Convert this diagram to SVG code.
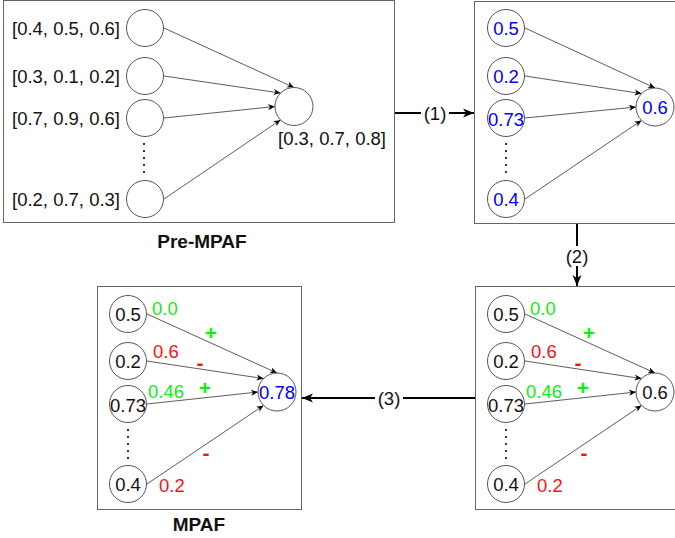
<svg xmlns="http://www.w3.org/2000/svg" width="675" height="538" viewBox="0 0 675 538">
<defs>
<style>
text{font-family:"Liberation Sans",Arial,sans-serif;font-size:18.5px;fill:#111}
.box{fill:#fff;stroke:#666;stroke-width:1}
.node{fill:#fff;stroke:#555;stroke-width:1}
.c{text-anchor:middle}
.blue{fill:#0000ff}
.green{fill:#11ee11}
.red{fill:#ff1111}
.sign{font-weight:bold;font-size:21px;text-anchor:middle}
.title{font-weight:bold;font-size:19px;text-anchor:middle}
.edge{stroke:#333;stroke-width:0.8;fill:none;marker-end:url(#sa)}
.main{stroke:#000;stroke-width:2;fill:none;marker-end:url(#la)}
.dots{stroke:#333;stroke-width:2;stroke-dasharray:2 5}
.lbl{text-anchor:middle}
</style>
<marker id="sa" markerUnits="userSpaceOnUse" markerWidth="8" markerHeight="8" viewBox="0 0 8 8" refX="7" refY="4" orient="auto">
<path d="M0,1 L7,4 L0,7 L2,4 Z" fill="#000"/>
</marker>
<marker id="la" markerUnits="userSpaceOnUse" markerWidth="12" markerHeight="12" viewBox="0 0 12 12" refX="11" refY="6" orient="auto">
<path d="M0,1.5 L11,6 L0,10.5 L3,6 Z" fill="#000"/>
</marker>
</defs>
<rect width="675" height="538" fill="#fff"/>

<g id="pre-mpaf">
<rect class="box" x="3.5" y="0.5" width="391" height="222"/>
<text class="title" x="202" y="248">Pre-MPAF</text>
</g>
<g id="box2"><rect class="box" x="474.5" y="1.5" width="202" height="222"/></g>
<g id="box3"><rect class="box" x="475.5" y="286.5" width="202" height="223"/></g>
<g id="mpaf">
<rect class="box" x="97.5" y="286.5" width="204" height="223"/>
<text class="title" x="199" y="531">MPAF</text>
</g>

<g id="connectors">
<line class="edge" x1="164" y1="28" x2="294" y2="87.5"/>
<line class="edge" x1="164" y1="76" x2="280.6" y2="93.1"/>
<line class="edge" x1="164" y1="118" x2="275" y2="106.5"/>
<line class="edge" x1="164" y1="199" x2="280.6" y2="119.9"/>
<line class="edge" x1="525" y1="28" x2="655" y2="88"/>
<line class="edge" x1="525" y1="76" x2="641.6" y2="93.6"/>
<line class="edge" x1="525" y1="118" x2="636" y2="107"/>
<line class="edge" x1="525" y1="199" x2="641.6" y2="120.4"/>
<line class="edge" x1="525" y1="314" x2="655" y2="373"/>
<line class="edge" x1="525" y1="361" x2="641.6" y2="378.6"/>
<line class="edge" x1="525" y1="404" x2="636" y2="392"/>
<line class="edge" x1="525" y1="484" x2="641.6" y2="405.4"/>
<line class="edge" x1="147" y1="314" x2="277" y2="373"/>
<line class="edge" x1="147" y1="361" x2="263.6" y2="378.6"/>
<line class="edge" x1="147" y1="404" x2="258" y2="392"/>
<line class="edge" x1="147" y1="484" x2="263.6" y2="405.4"/>
<line class="main" x1="395" y1="113" x2="474" y2="113"/>
<line class="main" x1="577" y1="224" x2="577" y2="286"/>
<line class="main" x1="475" y1="398" x2="302" y2="398"/>
<rect x="421" y="103" width="28" height="20" fill="#fff"/>
<text class="lbl" x="435" y="119.5">(1)</text>
<rect x="563" y="246" width="28" height="20" fill="#fff"/>
<text class="lbl" x="577" y="263">(2)</text>
<rect x="375" y="388" width="28" height="20" fill="#fff"/>
<text class="lbl" x="389" y="404.5">(3)</text>
<line class="dots" x1="144" y1="143" x2="144" y2="176"/>
<line class="dots" x1="506" y1="143" x2="506" y2="176"/>
<line class="dots" x1="506" y1="429" x2="506" y2="462"/>
<line class="dots" x1="128" y1="429" x2="128" y2="462"/>
</g>

<!-- Box 1 nodes -->
<g id="p1"><circle class="node" cx="145" cy="28" r="18.5"/><text x="120" y="34.5" text-anchor="end">[0.4, 0.5, 0.6]</text></g>
<g id="p2"><circle class="node" cx="145" cy="76" r="18.5"/><text x="120" y="82.5" text-anchor="end">[0.3, 0.1, 0.2]</text></g>
<g id="p3"><circle class="node" cx="145" cy="118" r="18.5"/><text x="120" y="124.5" text-anchor="end">[0.7, 0.9, 0.6]</text></g>
<g id="p4"><circle class="node" cx="145" cy="199" r="18.5"/><text x="120" y="205.5" text-anchor="end">[0.2, 0.7, 0.3]</text></g>
<g id="pout"><circle class="node" cx="294" cy="106.5" r="19"/><text x="278" y="145">[0.3, 0.7, 0.8]</text></g>

<!-- Box 2 nodes -->
<g id="b2n1"><circle class="node" cx="506" cy="28" r="18.5"/><text class="c blue" x="506" y="34.5">0.5</text></g>
<g id="b2n2"><circle class="node" cx="506" cy="76" r="18.5"/><text class="c blue" x="506" y="82.5">0.2</text></g>
<g id="b2n3"><circle class="node" cx="506" cy="118" r="18.5"/><text class="c blue" x="506" y="126">0.73</text></g>
<g id="b2n4"><circle class="node" cx="506" cy="199" r="18.5"/><text class="c blue" x="506" y="205.5">0.4</text></g>
<g id="b2out"><circle class="node" cx="655" cy="107" r="19"/><text class="c blue" x="655" y="113.5">0.6</text></g>

<!-- Box 3 nodes -->
<g id="b3n1"><circle class="node" cx="506" cy="314" r="18.5"/><text class="c" x="506" y="320.5">0.5</text></g>
<g id="b3n2"><circle class="node" cx="506" cy="361" r="18.5"/><text class="c" x="506" y="367.5">0.2</text></g>
<g id="b3n3"><circle class="node" cx="506" cy="404" r="18.5"/><text class="c" x="506" y="412">0.73</text></g>
<g id="b3n4"><circle class="node" cx="506" cy="484" r="18.5"/><text class="c" x="506" y="490.5">0.4</text></g>
<g id="b3out"><circle class="node" cx="655" cy="392" r="19"/><text class="c" x="655" y="398.5">0.6</text></g>
<g id="b3labels">
<text class="green" x="530" y="315">0.0</text>
<text class="red" x="531" y="358">0.6</text>
<text class="green" x="526" y="398">0.46</text>
<text class="red" x="537" y="492">0.2</text>
<text class="sign green" x="589" y="340">+</text>
<text class="sign red" x="578" y="370">-</text>
<text class="sign green" x="583" y="395">+</text>
<text class="sign red" x="584" y="460">-</text>
</g>

<!-- Box 4 nodes -->
<g id="b4n1"><circle class="node" cx="128" cy="314" r="18.5"/><text class="c" x="128" y="320.5">0.5</text></g>
<g id="b4n2"><circle class="node" cx="128" cy="361" r="18.5"/><text class="c" x="128" y="367.5">0.2</text></g>
<g id="b4n3"><circle class="node" cx="128" cy="404" r="18.5"/><text class="c" x="128" y="412">0.73</text></g>
<g id="b4n4"><circle class="node" cx="128" cy="484" r="18.5"/><text class="c" x="128" y="490.5">0.4</text></g>
<g id="b4out"><circle class="node" cx="277" cy="392" r="19"/><text class="c blue" x="277" y="398.5">0.78</text></g>
<g id="b4labels">
<text class="green" x="152" y="315">0.0</text>
<text class="red" x="153" y="358">0.6</text>
<text class="green" x="148" y="398">0.46</text>
<text class="red" x="159" y="492">0.2</text>
<text class="sign green" x="211" y="340">+</text>
<text class="sign red" x="200" y="370">-</text>
<text class="sign green" x="205" y="395">+</text>
<text class="sign red" x="206" y="460">-</text>
</g>
</svg>
